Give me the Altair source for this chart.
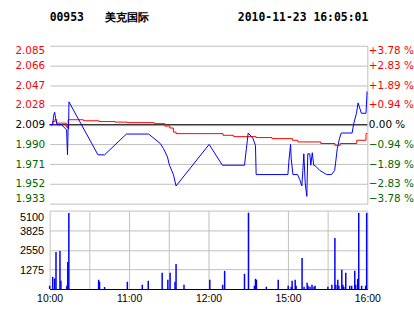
import altair as alt
import pandas as pd

# ---- text ----
stock_code = "00953"
stock_name = "美克国际"
stamp = "2010-11-23 16:05:01"

# ---- price line (blue): trading minutes since 10:00, price ----
price_min = [0, 2.3, 3.0, 3.8, 4.5, 5.6, 9.0, 12.8, 13.2, 13.5, 14.0, 14.3, 14.6, 36.5, 41.5, 58.0, 74.8,
             83.5, 86.0, 89.0, 90.5, 93.5, 95.5, 120.5, 130.5, 147.2, 149.0, 150.0, 153.5, 155.5, 156.0,
             180.0, 180.8, 182.0, 182.5, 183.8, 187.3, 189.0, 190.5, 191.3, 192.0, 193.1, 194.3,
             195.0, 196.5, 197.3, 198.4, 199.5, 201.0, 204.0, 209.3, 213.0, 215.3, 216.0, 217.3,
             219.0, 220.3, 228.5, 229.7, 231.8, 233.0, 234.0, 235.5, 239.0, 239.8]
price_val = [2.009, 2.009, 2.018, 2.021, 2.015, 2.009, 2.009, 2.004, 1.990, 1.980, 2.009, 2.005, 2.031,
             1.980, 1.980, 2.000, 2.000, 1.991, 1.986, 1.978, 1.970, 1.961, 1.950, 1.990, 1.970, 1.970,
             1.990, 2.001, 1.996, 1.989, 1.961, 1.961, 1.975, 1.990, 1.976, 1.961, 1.961, 1.956, 1.950,
             1.965, 1.981, 1.952, 1.940, 1.981, 1.981, 1.970, 1.982, 1.970, 1.969, 1.965, 1.961, 1.961,
             1.965, 1.972, 1.986, 1.996, 2.001, 2.001, 2.010, 2.020, 2.030, 2.026, 2.020, 2.020, 2.041]

# ---- average line (red), step changes ----
avg_min = [0, 2.3, 4.0, 5.3, 12.5, 14.0, 25.5, 37.3, 49.5, 58.5, 79.0, 87.0, 90.8, 93.5, 95.5, 131.0,
           139.0, 156.0, 168.0, 183.5, 187.5, 204.8, 215.5, 219.5, 232.0, 239.0, 240.0]
avg_val = [2.009, 2.012, 2.014, 2.0105, 2.0067, 2.0138, 2.0128, 2.0120, 2.0115, 2.0110, 2.0100, 2.0077,
           2.0058, 2.0019, 2.0004, 1.9988, 1.9975, 1.9966, 1.9956, 1.9940, 1.9924, 1.9909, 1.9892,
           1.9909, 1.9940, 2.0004, 2.0004]

# ---- volume bars ----
vol_min = [0, 2.3, 3.8, 4.8, 7.8, 8.5, 13.0, 13.7, 14.5, 37.0, 37.7, 41.5, 58.7, 70.0, 74.5, 85.0, 89.3,
           91.0, 94.7, 95.5, 101.5, 121.0, 130.7, 132.2, 147.2, 150.2, 154.7, 155.5, 156.2, 163.7, 172.7,
           180.2, 182.5, 183.2, 185.5, 186.2, 190.7, 192.2, 194.5, 195.2, 196.7, 198.2, 199.7, 200.5,
           210.2, 213.2, 215.5, 216.2, 217.7, 218.5, 220.7, 221.5, 222.2, 223.7, 226.7, 228.2, 230.5,
           231.2, 232.7, 233.5, 235.7, 238.7, 239.5]
vol_val = [213, 794, 685, 2410, 2475, 536, 213, 1760, 4950, 600, 471, 129, 471, 278, 536, 1052, 600,
           1052, 471, 1633, 278, 600, 278, 1182, 988, 4950, 213, 665, 600, 149, 600, 213, 149, 536, 600,
           213, 2020, 149, 407, 213, 149, 278, 149, 213, 149, 278, 3312, 278, 600, 213, 1246, 278, 149,
           1052, 213, 213, 1182, 278, 665, 4950, 213, 213, 4950]

# ---- axes ----
prev_close = [2.009]
price_ticks = [2.085, 2.066, 2.047, 2.028, 2.009, 1.990, 1.971, 1.952, 1.933]
pct_labels = ["+3.78 %", "+2.83 %", "+1.89 %", "+0.94 %", "\u2007\u20090.00 %",
              "\u22120.94 %", "\u22121.89 %", "\u22122.83 %", "\u22123.78 %"]
vol_ticks = [1275, 2550, 3825, 5100]
grid_minutes = [0, 30, 60, 90, 120, 150, 180, 210, 240]
time_ticks = [0, 60, 120, 180, 240]
time_labels = ["10:00", "11:00", "12:00", "15:00", "16:00"]

RED = "#ff0000"
GREEN = "#006600"
BLUE = "#0000ff"
GRID = "#c0c0c0"


def chain(ticks, labels, tol):
    expr = "''"
    for t, l in zip(reversed(ticks), reversed(labels)):
        expr = f"(abs(datum.value - {t}) < {tol} ? '{l}' : {expr})"
    return expr


color_cond = {
    "condition": [
        {"test": "datum.value > 2.0095", "value": RED},
        {"test": "datum.value > 2.0085", "value": "#000000"},
    ],
    "value": GREEN,
}

df_price = pd.DataFrame({"m": price_min, "p": price_val})
df_avg = pd.DataFrame({"m": avg_min, "p": avg_val})
df_vol = pd.DataFrame({"m": vol_min, "v": vol_val})
df_ref = pd.DataFrame({"p": prev_close})

xscale = alt.Scale(domain=[0, 240], nice=False, zero=False)
yscale = alt.Scale(domain=[price_ticks[-1], price_ticks[0]], nice=False, zero=False)

top_x_axis = alt.Axis(values=grid_minutes, labels=False, ticks=False, domain=True,
                      domainColor="black", domainWidth=1, grid=True, gridColor=GRID,
                      gridWidth=1, title=None)

left_axis = alt.Axis(values=price_ticks, format=".3f", orient="left", grid=True, gridColor=GRID,
                     gridWidth=1, ticks=False, domain=False, labelFont="DejaVu Sans",
                     labelFontSize=10.5, labelColor=color_cond, labelPadding=5, labelFlush=True,
                     labelOverlap=False, minExtent=50, maxExtent=50, title=None)

right_axis = alt.Axis(values=price_ticks, labelExpr=chain(price_ticks, pct_labels, 0.0005),
                      orient="right", grid=False, ticks=False, domain=True, domainColor=GRID,
                      labelFont="DejaVu Sans", labelFontSize=10.5, labelColor=color_cond,
                      labelPadding=1, labelFlush=True, labelOverlap=False, title=None)

rule = alt.Chart(df_ref).mark_rule(color="black", strokeWidth=1).encode(
    y=alt.Y("p:Q", scale=yscale, axis=None)
)
red = alt.Chart(df_avg).mark_line(color=RED, strokeWidth=1, interpolate="step-after").encode(
    x=alt.X("m:Q", scale=xscale, axis=None),
    y=alt.Y("p:Q", scale=yscale, axis=right_axis),
)
blue = alt.Chart(df_price).mark_line(color=BLUE, strokeWidth=1).encode(
    x=alt.X("m:Q", scale=xscale, axis=top_x_axis),
    y=alt.Y("p:Q", scale=yscale, axis=left_axis),
)

title_text = stock_code + "\u00a0" * 3 + stock_name + "\u00a0" * 13 + stamp

price = alt.layer(rule, red, blue).resolve_axis(y="independent").properties(
    width=320, height=159,
    title=alt.TitleParams(text=title_text, anchor="start", frame="group", font="DejaVu Sans Mono",
                          fontSize=11.5, fontWeight="bold", color="black", offset=22),
)

bottom_x_axis = alt.Axis(values=grid_minutes, labelExpr=chain(time_ticks, time_labels, 0.5),
                         ticks=False, domain=True, domainColor="black", domainWidth=1, grid=True,
                         gridColor=GRID, gridWidth=1, labelFont="Liberation Sans", labelFontSize=10.5,
                         labelColor="black", labelPadding=5, labelFlush=False, labelOverlap=False,
                         title=None)

vol_axis = alt.Axis(values=vol_ticks, format="d", grid=True, gridColor=GRID, gridWidth=1, ticks=False,
                    domain=False, labelFont="Liberation Sans", labelFontSize=11, labelColor="black",
                    labelPadding=6, labelFlush=True, labelOverlap=False, labelOffset=1,
                    minExtent=50, maxExtent=50, title=None)

volume = alt.Chart(df_vol).mark_rule(color=BLUE, strokeWidth=1.5).encode(
    x=alt.X("m:Q", scale=xscale, axis=bottom_x_axis),
    y=alt.Y("v:Q", scale=alt.Scale(domain=[0, 5100], nice=False, zero=True), axis=vol_axis),
    y2=alt.datum(0),
).properties(width=320, height=79)

chart = alt.vconcat(price, volume, spacing=6).properties(
    padding={"left": 0, "top": 11, "right": 0, "bottom": 0},
    background="white",
).configure_view(stroke=None)

chart.save("out.html", embed_options={"renderer": "svg", "actions": False})
